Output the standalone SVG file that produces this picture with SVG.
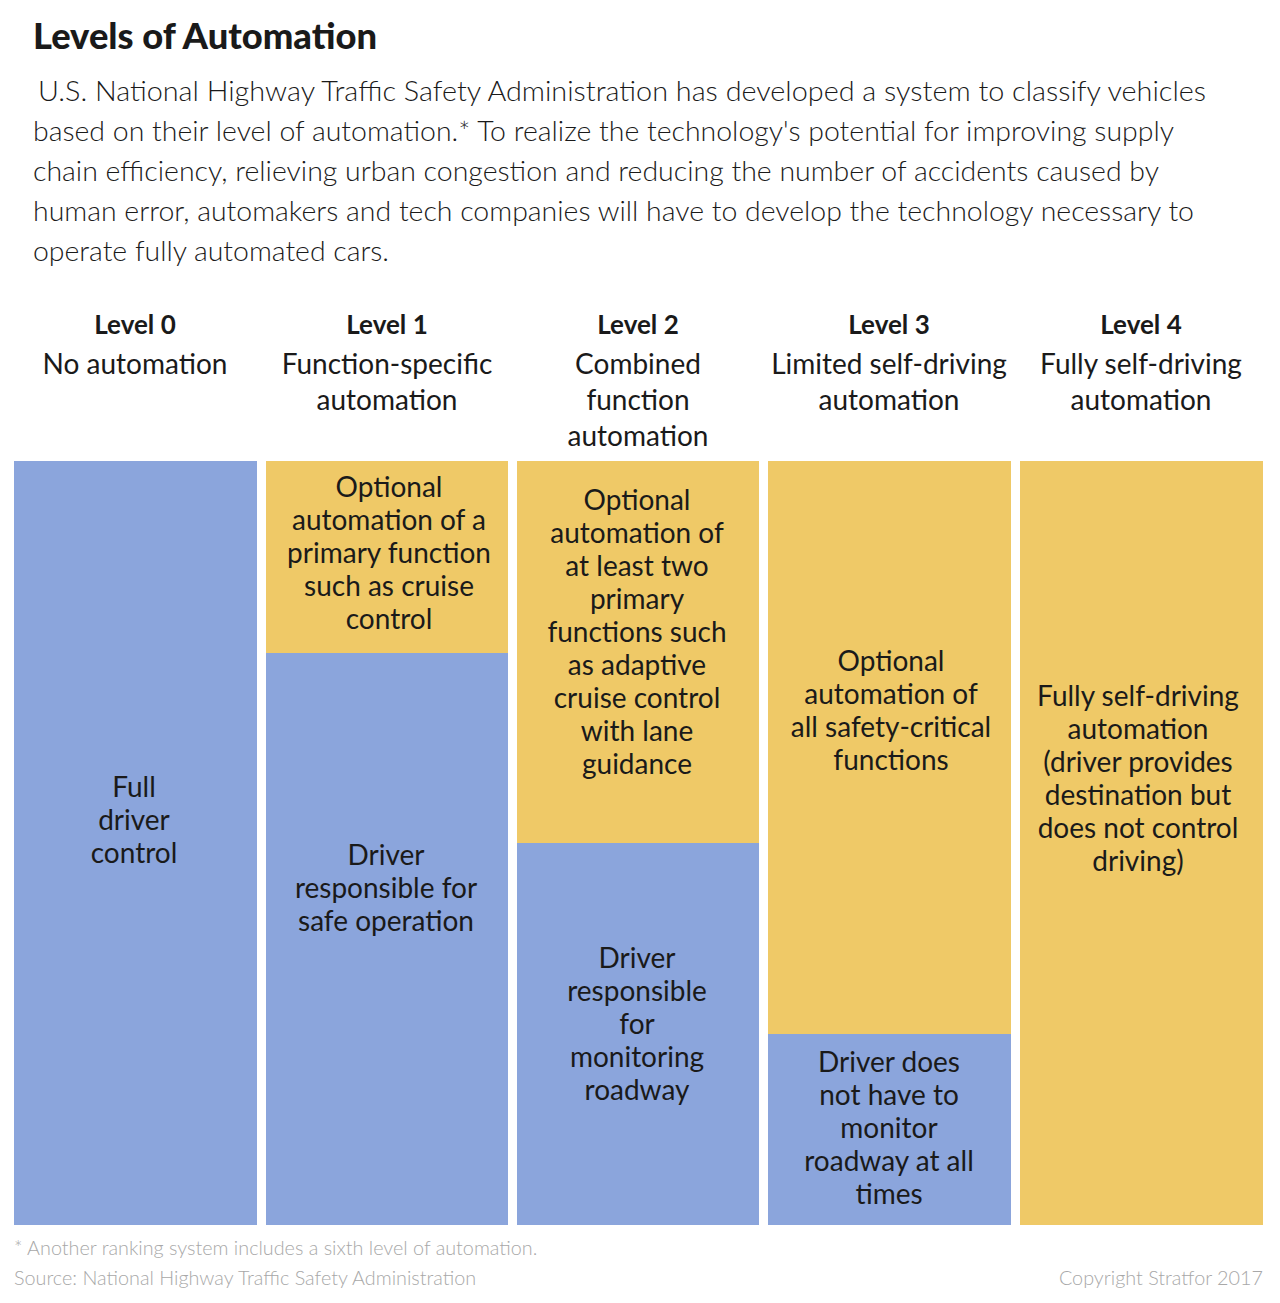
<svg xmlns="http://www.w3.org/2000/svg" width="1280" height="1303" viewBox="0 0 1280 1303">
<style>
.t{font-family:Lato,"Open Sans","Liberation Sans",sans-serif;fill:#1a1a1a}
.title{font-size:36px;font-weight:900}
.p{font-size:27px;font-weight:300}
.h{font-size:26px;font-weight:700;text-anchor:middle}
.s{font-size:28px;font-weight:400;text-anchor:middle}
.b{font-size:28px;font-weight:400;text-anchor:middle}
.f{font-size:19.8px;font-weight:300;fill:#a8a8a8}
.blue{fill:#8ba5dc}
.yel{fill:#efc967}
</style>
<rect width="1280" height="1303" fill="#fff"/>
<text class="t title" x="33" y="49" textLength="344" lengthAdjust="spacingAndGlyphs">Levels of Automation</text>
<g id="intro">
<text class="t p" x="38" y="101" textLength="1168" lengthAdjust="spacingAndGlyphs">U.S. National Highway Traffic Safety Administration has developed a system to classify vehicles</text>
<text class="t p" x="33" y="141" textLength="1141" lengthAdjust="spacingAndGlyphs">based on their level of automation.* To realize the technology's potential for improving supply</text>
<text class="t p" x="33" y="181" textLength="1126" lengthAdjust="spacingAndGlyphs">chain efficiency, relieving urban congestion and reducing the number of accidents caused by</text>
<text class="t p" x="33" y="221" textLength="1161" lengthAdjust="spacingAndGlyphs">human error, automakers and tech companies will have to develop the technology necessary to</text>
<text class="t p" x="33" y="261" textLength="356" lengthAdjust="spacingAndGlyphs">operate fully automated cars.</text>
</g>
<g id="level0">
<text class="t h" x="135" y="334">Level 0</text>
<text class="t s" x="135" y="374">No automation</text>
<rect class="blue" x="14" y="461" width="243" height="764"/>
<text class="t b" x="134"><tspan x="134" y="797">Full</tspan><tspan x="134" y="830">driver</tspan><tspan x="134" y="863">control</tspan></text>
</g>
<g id="level1">
<text class="t h" x="387" y="334">Level 1</text>
<text class="t s"><tspan x="387" y="374">Function-specific</tspan><tspan x="387" y="410">automation</tspan></text>
<rect class="yel" x="266" y="461" width="242" height="192"/>
<rect class="blue" x="266" y="653" width="242" height="572"/>
<text class="t b"><tspan x="389" y="497">Optional</tspan><tspan x="389" y="530">automation of a</tspan><tspan x="389" y="563">primary function</tspan><tspan x="389" y="596">such as cruise</tspan><tspan x="389" y="629">control</tspan></text>
<text class="t b"><tspan x="386" y="865">Driver</tspan><tspan x="386" y="898">responsible for</tspan><tspan x="386" y="931">safe operation</tspan></text>
</g>
<g id="level2">
<text class="t h" x="638" y="334">Level 2</text>
<text class="t s"><tspan x="638" y="374">Combined</tspan><tspan x="638" y="410">function</tspan><tspan x="638" y="446">automation</tspan></text>
<rect class="yel" x="517" y="461" width="242" height="382"/>
<rect class="blue" x="517" y="843" width="242" height="382"/>
<text class="t b"><tspan x="637" y="510">Optional</tspan><tspan x="637" y="543">automation of</tspan><tspan x="637" y="576">at least two</tspan><tspan x="637" y="609">primary</tspan><tspan x="637" y="642">functions such</tspan><tspan x="637" y="675">as adaptive</tspan><tspan x="637" y="708">cruise control</tspan><tspan x="637" y="741">with lane</tspan><tspan x="637" y="774">guidance</tspan></text>
<text class="t b"><tspan x="637" y="968">Driver</tspan><tspan x="637" y="1001">responsible</tspan><tspan x="637" y="1034">for</tspan><tspan x="637" y="1067">monitoring</tspan><tspan x="637" y="1100">roadway</tspan></text>
</g>
<g id="level3">
<text class="t h" x="889" y="334">Level 3</text>
<text class="t s"><tspan x="889" y="374">Limited self-driving</tspan><tspan x="889" y="410">automation</tspan></text>
<rect class="yel" x="768" y="461" width="243" height="573"/>
<rect class="blue" x="768" y="1034" width="243" height="191"/>
<text class="t b"><tspan x="891" y="671">Optional</tspan><tspan x="891" y="704">automation of</tspan><tspan x="891" y="737">all safety-critical</tspan><tspan x="891" y="770">functions</tspan></text>
<text class="t b"><tspan x="889" y="1072">Driver does</tspan><tspan x="889" y="1105">not have to</tspan><tspan x="889" y="1138">monitor</tspan><tspan x="889" y="1171">roadway at all</tspan><tspan x="889" y="1204">times</tspan></text>
</g>
<g id="level4">
<text class="t h" x="1141" y="334">Level 4</text>
<text class="t s"><tspan x="1141" y="374">Fully self-driving</tspan><tspan x="1141" y="410">automation</tspan></text>
<rect class="yel" x="1020" y="461" width="243" height="764"/>
<text class="t b"><tspan x="1138" y="706">Fully self-driving</tspan><tspan x="1138" y="739">automation</tspan><tspan x="1138" y="772">(driver provides</tspan><tspan x="1138" y="805">destination but</tspan><tspan x="1138" y="838">does not control</tspan><tspan x="1138" y="871">driving)</tspan></text>
</g>
<g id="connectors"/>
<g id="footer">
<text class="t f" x="14" y="1255">* Another ranking system includes a sixth level of automation.</text>
<text class="t f" x="14" y="1285">Source: National Highway Traffic Safety Administration</text>
<text class="t f" x="1263" y="1285" text-anchor="end">Copyright Stratfor 2017</text>
</g>
</svg>
